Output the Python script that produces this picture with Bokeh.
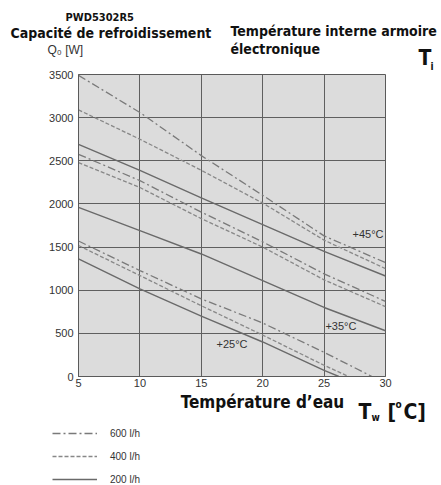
from bokeh.plotting import figure
from bokeh.layouts import column
from bokeh.models import Range1d, Label, Legend, LegendItem, FixedTicker
from bokeh.embed import file_html
from bokeh.resources import INLINE

# ---- data ----
water_temp = [5, 10, 15, 20, 25, 30]
q_600_45 = [3490, 3060, 2560, 2100, 1630, 1320]
q_400_45 = [3090, 2750, 2390, 2010, 1580, 1250]
q_200_45 = [2690, 2390, 2070, 1760, 1450, 1165]
q_600_35 = [2575, 2270, 1905, 1560, 1190, 870]
q_400_35 = [2478, 2190, 1830, 1500, 1120, 810]
q_200_35 = [1960, 1690, 1420, 1110, 800, 530]
t_600_25 = [5, 10, 15, 20, 25, 28.9]
q_600_25 = [1570, 1228, 900, 620, 280, 0]
t_400_25 = [5, 10, 15, 20, 25, 27]
q_400_25 = [1518, 1170, 820, 480, 130, 0]
t_200_25 = [5, 10, 15, 20, 25, 26.2]
q_200_25 = [1363, 1015, 700, 400, 70, 0]

x_ticks = [5, 10, 15, 20, 25, 30]
y_ticks = [0, 500, 1000, 1500, 2000, 2500, 3000, 3500]
flow_labels = ["600 l/h", "400 l/h", "200 l/h"]
temp_labels = ["+45°C", "+35°C", "+25°C"]

TICK_FONT = "Liberation Sans"
COND_FONT = "DejaVu Sans Condensed"
DARK = "#111111"
GREY_TXT = "#333333"

DASHDOT = "8 3 2 3"
DASHED = "4 2"
c_dd, c_da, c_so = "#7a7a7a", "#888888", "#6a6a6a"
sty_dd = dict(line_color=c_dd, line_width=1.3, line_dash=DASHDOT)
sty_da = dict(line_color=c_da, line_width=1.3, line_dash=DASHED)
sty_so = dict(line_color=c_so, line_width=1.4)
NAN = float("nan")


def lab(fig, x, y, text, size="11px", font=TICK_FONT, style="normal", align="left",
        color=GREY_TXT, baseline="middle"):
    fig.add_layout(Label(x=x, y=y, text=text, text_font=font, text_font_size=size,
                         text_font_style=style, text_align=align, text_baseline=baseline,
                         text_color=color))


def blank(h):
    f = figure(width=441, height=h, output_backend="svg", toolbar_location=None,
               x_range=Range1d(0, 441), y_range=Range1d(0, h), title=None,
               x_axis_type=None, y_axis_type=None, frame_align=False)
    f.min_border_left = f.min_border_right = f.min_border_top = f.min_border_bottom = 0
    f.outline_line_color = None
    f.background_fill_color = None
    f.border_fill_color = None
    return f

# ---------------- header (y given as page pixel of text centre) ----------------
H = 70
head = blank(H)
lab(head, 65, H - 16.5, "PWD5302R5", size="11px", font=COND_FONT, style="bold", color=DARK)
lab(head, 10, H - 32.5, "Capacité de refroidissement", size="14px", font=COND_FONT, style="bold", color=DARK)
lab(head, 230, H - 30, "Température interne armoire", size="14px", font=COND_FONT, style="bold", color=DARK)
lab(head, 230, H - 48, "électronique", size="14px", font=COND_FONT, style="bold", color=DARK)
lab(head, 47, H - 49, "Q₀ [W]", size="12px")
lab(head, 418, H - 57.5, "T", size="21px", font=COND_FONT, style="bold", color=DARK)
lab(head, 430, H - 65.5, "i", size="10px", font=COND_FONT, style="bold", color=DARK)

# ---------------- chart ----------------
CH = 321
p = figure(width=441, height=CH, output_backend="svg", toolbar_location=None, title=None,
           x_range=Range1d(5, 30), y_range=Range1d(0, 3500), frame_align=False)
p.min_border_left = 78
p.min_border_right = 56
p.min_border_top = 4
p.min_border_bottom = 15
p.background_fill_color = "#dcdcdc"
p.border_fill_color = None
p.outline_line_color = "#5a5a5a"

for ax in (p.xaxis[0], p.yaxis[0]):
    ax.axis_line_color = "#5a5a5a"
    ax.major_tick_line_color = None
    ax.minor_tick_line_color = None
    ax.major_tick_out = 0
    ax.major_tick_in = 0
    ax.minor_tick_out = 0
    ax.minor_tick_in = 0
    ax.major_label_text_font = TICK_FONT
    ax.major_label_text_font_size = "11px"
    ax.major_label_text_color = GREY_TXT
p.xaxis.ticker = FixedTicker(ticks=x_ticks)
p.yaxis.ticker = FixedTicker(ticks=y_ticks)
p.xaxis.major_label_standoff = 2
p.yaxis.major_label_standoff = 5
p.grid.grid_line_color = "#5f5f5f"
p.grid.grid_line_alpha = 1.0
p.xgrid.ticker = FixedTicker(ticks=x_ticks)
p.ygrid.ticker = FixedTicker(ticks=y_ticks)

p.line(water_temp, q_600_45, **sty_dd)
p.line(water_temp, q_400_45, **sty_da)
p.line(water_temp, q_200_45, **sty_so)
p.line(water_temp, q_600_35, **sty_dd)
p.line(water_temp, q_400_35, **sty_da)
p.line(water_temp, q_200_35, **sty_so)
p.line(t_600_25, q_600_25, **sty_dd)
p.line(t_400_25, q_400_25, **sty_da)
p.line(t_200_25, q_200_25, **sty_so)

lab(p, 29.84, 1646, temp_labels[0], align="right")
lab(p, 25.11, 591, temp_labels[1])
lab(p, 16.24, 382, temp_labels[2])

# ---------------- footer (y given as page pixel of text centre) ----------------
Y0 = H + CH          # page y of footer top
F = 485 - Y0
foot = blank(F)
lab(foot, 262, F - (401 - Y0), "Température d’eau", size="17px", font=COND_FONT, style="bold",
    align="center", color=DARK)
lab(foot, 358, F - (411 - Y0), "T", size="21px", font=COND_FONT, style="bold", color=DARK)
lab(foot, 371, F - (417 - Y0), "w", size="10px", font=COND_FONT, style="bold", color=DARK)
lab(foot, 387, F - (411 - Y0), "[", size="21px", font=COND_FONT, style="bold", color=DARK)
lab(foot, 395, F - (404 - Y0), "o", size="10px", font=COND_FONT, style="bold", color=DARK)
lab(foot, 403, F - (411 - Y0), "C]", size="21px", font=COND_FONT, style="bold", color=DARK)

g600 = foot.line(x=[NAN], y=[NAN], **sty_dd)
g400 = foot.line(x=[NAN], y=[NAN], **sty_da)
g200 = foot.line(x=[NAN], y=[NAN], **sty_so)
legend = Legend(items=[LegendItem(label=flow_labels[0], renderers=[g600]),
                       LegendItem(label=flow_labels[1], renderers=[g400]),
                       LegendItem(label=flow_labels[2], renderers=[g200])],
                location=(52, -3), orientation="vertical",
                glyph_width=45, glyph_height=18, label_height=18, spacing=5,
                label_standoff=13, padding=0, margin=0,
                border_line_color=None, background_fill_alpha=0,
                label_text_font=TICK_FONT, label_text_font_size="10px",
                label_text_color=GREY_TXT)
foot.add_layout(legend, "center")

layout = column(head, p, foot, spacing=0)
open("out.html", "w").write(file_html(layout, INLINE))
